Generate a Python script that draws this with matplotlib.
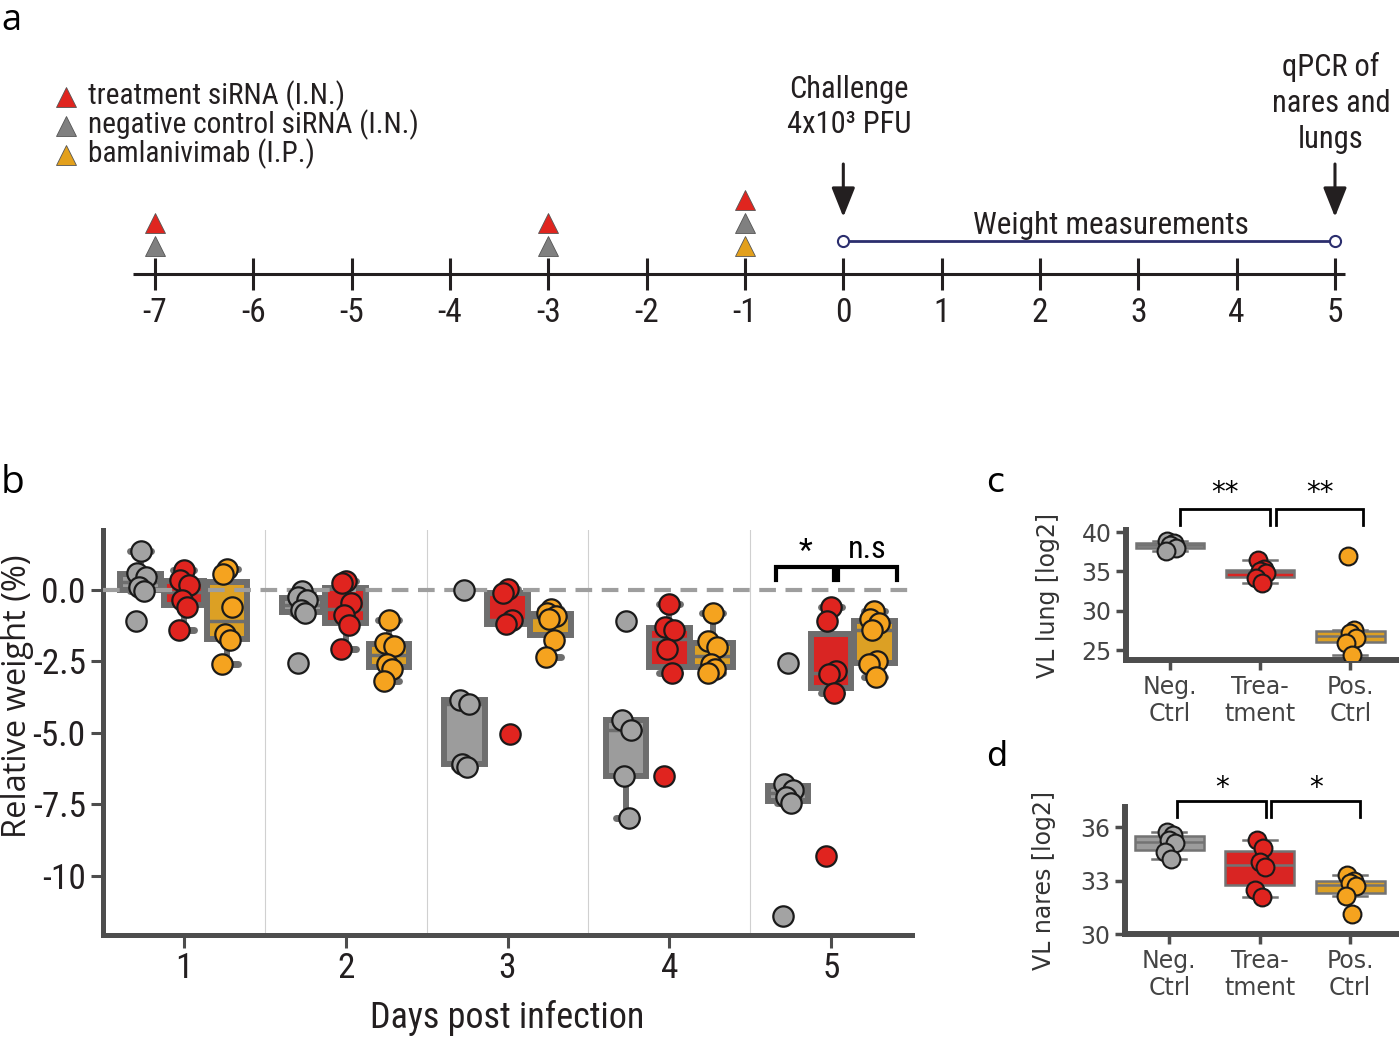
import numpy as np
import matplotlib
matplotlib.use('Agg')
import matplotlib.pyplot as plt
from matplotlib import font_manager as fm

# ------------------------- data -------------------------
tl_days = [-7, -6, -5, -4, -3, -2, -1, 0, 1, 2, 3, 4, 5]
tl_labels = ['-7', '-6', '-5', '-4', '-3', '-2', '-1', '0', '1', '2', '3', '4', '5']
legend_labels = ['treatment siRNA (I.N.)', 'negative control siRNA (I.N.)', 'bamlanivimab (I.P.)']
treat_days = [-7, -3, -1]
negctrl_days = [-7, -3, -1]
bamlan_days = [-1]
challenge_day = 0
qpcr_day = 5
weight_span = [0, 5]

days = [1, 2, 3, 4, 5]
neg_weight = [[1.35, 0.6, 0.45, 0.1, -0.05, -1.1],
              [-0.05, -0.25, -0.35, -0.7, -0.8, -2.55],
              [0.0, -3.85, -4.0, -6.1, -6.2],
              [-1.1, -4.55, -4.9, -6.5, -8.0],
              [-2.55, -6.8, -7.0, -7.25, -7.45, -11.4]]
trt_weight = [[0.7, 0.35, 0.18, -0.35, -0.6, -1.4],
              [0.3, 0.25, -0.45, -0.88, -1.23, -2.07],
              [0.05, -0.1, -1.05, -1.2, -5.05],
              [-0.5, -1.3, -1.4, -2.05, -2.9, -6.5],
              [-0.6, -1.1, -2.85, -2.95, -3.6, -9.3]]
pos_weight = [[0.75, 0.55, -0.6, -1.55, -1.75, -2.6],
              [-1.05, -1.85, -1.95, -2.6, -2.75, -3.2],
              [-0.65, -0.8, -0.9, -1.0, -1.75, -2.35],
              [-0.8, -1.8, -2.0, -2.6, -2.75, -2.9],
              [-0.75, -1.0, -1.15, -1.4, -2.5, -2.6, -3.05]]

vl_groups = ['Neg.\nCtrl', 'Trea-\ntment', 'Pos.\nCtrl']
lung_neg = [38.9, 38.6, 38.4, 38.0, 37.6]
lung_trt = [36.4, 35.3, 35.0, 34.8, 34.2, 33.5]
lung_pos = [37.0, 27.6, 27.2, 26.5, 25.9, 24.4]
nares_neg = [35.75, 35.6, 35.3, 35.1, 34.6, 34.2]
nares_trt = [35.3, 34.85, 34.05, 33.75, 32.45, 32.1]
nares_pos = [33.3, 33.0, 32.85, 32.7, 32.15, 31.1]

# ------------------------- style -------------------------
names = {f.name for f in fm.fontManager.ttflist}
NARROW = 'DejaVu Sans'
for cand in ['Liberation Sans Narrow', 'Roboto Condensed', 'Open Sans']:
    if cand in names:
        NARROW = cand
        break
WIDE = 'Open Sans' if 'Open Sans' in names else 'DejaVu Sans'

RED_T, GRAY_T, ORA_T = '#e0251f', '#808080', '#e3a01c'
PT_COL = ['#a3a3a3', '#e0241f', '#f5a31f']
BOX_COL = ['#9c9c9c', '#d92523', '#dca024']
EDGE = '#6e6e6e'
SPINE = '#4d4d4d'
NAVY = '#2b2e6e'

W, H = 1399, 1038
fig = plt.figure(figsize=(W / 100, H / 100), dpi=100)


def fy(py):
    return 1 - py / H


# ------------------------- panel a -------------------------
axa = fig.add_axes([0, fy(360), 1, 360 / H])
axa.set_xlim(-8.576, 5.651)
axa.set_ylim(360, 0)
axa.axis('off')
axa.plot([-7.22, 5.10], [274, 274], color='#231f20', lw=2.2, solid_capstyle='butt')
axa.vlines(tl_days, 258, 290, color='#231f20', lw=2.2)
for d, lab in zip(tl_days, tl_labels):
    axa.text(d, 313, lab, ha='center', va='center', fontsize=24, family=NARROW, color='#231f20')

stack = {}
for grp, dlist, col in [('bam', bamlan_days, ORA_T), ('neg', negctrl_days, GRAY_T), ('trt', treat_days, RED_T)]:
    for d in dlist:
        k = stack.get(d, 0)
        axa.plot(d, 246 - 23 * k, marker='^', ms=14.5, color=col, mec='#555555', mew=0.6, ls='none')
        stack[d] = k + 1

leg_y = [96, 125, 154]
for lab, col, yy in zip(legend_labels, [RED_T, GRAY_T, ORA_T], leg_y):
    axa.plot(-7.905, yy + 1, marker='^', ms=14.5, color=col, mec='#555555', mew=0.6, ls='none')
    axa.text(-7.68, yy, lab, ha='left', va='center', fontsize=21.2, family=NARROW, color='#231f20')

for d in [challenge_day, qpcr_day]:
    axa.annotate('', xy=(d, 217), xytext=(d, 164),
                 arrowprops=dict(arrowstyle='-|>,head_length=0.5,head_width=0.2', lw=2.2,
                                 color='#231f20', mutation_scale=36, shrinkA=0, shrinkB=0))
axa.text(challenge_day + 0.06, 107, 'Challenge\n4x10³ PFU', ha='center', va='center', fontsize=22,
         family=[NARROW, 'DejaVu Sans'], linespacing=1.3, color='#231f20')
axa.text(qpcr_day - 0.04, 103, 'qPCR of\nnares and\nlungs', ha='center', va='center', fontsize=22,
         family=NARROW, linespacing=1.3, color='#231f20')
axa.plot(weight_span, [241, 241], color=NAVY, lw=2, marker='o', ms=8, mfc='white', mec=NAVY, mew=1.5)
axa.text(2.72, 226, 'Weight measurements', ha='center', va='center', fontsize=22.5, family=NARROW, color='#231f20')

# ------------------------- panel b -------------------------
axb = fig.add_axes([103 / W, fy(935), 809 / W, 405 / H])
axb.set_xlim(0.5, 5.5)
axb.set_ylim(-12.08, 2.1)
jit = np.array([0.0, -0.025, 0.03, -0.012, 0.018, -0.03, 0.01])
offsets = [-0.267, 0.0, 0.267]
for gi, series in enumerate([neg_weight, trt_weight, pos_weight]):
    pos = [d + offsets[gi] for d in days]
    axb.boxplot(series, positions=pos, widths=0.25, patch_artist=True, showfliers=False,
                manage_ticks=False, capwidths=0.13,
                boxprops=dict(facecolor=BOX_COL[gi], edgecolor=EDGE, linewidth=4.3),
                medianprops=dict(color=EDGE, linewidth=2.5),
                whiskerprops=dict(color=EDGE, linewidth=4.3),
                capprops=dict(color=EDGE, linewidth=5, solid_capstyle='round'))
    for p, vals in zip(pos, series):
        xs = p + jit[:len(vals)]
        axb.scatter(xs, vals, s=215, color=PT_COL[gi], edgecolor='#1a1a1a', lw=1.6, zorder=6)
for xv in [1.5, 2.5, 3.5, 4.5]:
    axb.axvline(xv, color='#d0d0d0', lw=0.8, zorder=0)
axb.axhline(0, color='#9e9e9e', lw=3, ls=(0, (4, 2.3)), zorder=4)
for s in ['top', 'right']:
    axb.spines[s].set_visible(False)
for s in ['left', 'bottom']:
    axb.spines[s].set_linewidth(3.6)
    axb.spines[s].set_color(SPINE)
axb.set_yticks([0, -2.5, -5, -7.5, -10])
axb.set_yticklabels(['0.0', '-2.5', '-5.0', '-7.5', '-10'])
axb.set_xticks(days)
axb.set_xticklabels([str(d) for d in days])
axb.tick_params(axis='both', length=9, width=2.2, color=SPINE, labelsize=25.5, labelcolor='#231f20')
for t in axb.get_xticklabels() + axb.get_yticklabels():
    t.set_family(NARROW)
axb.set_xlabel('Days post infection', fontsize=26, family=NARROW, color='#231f20')
axb.xaxis.label.set_va('center')
axb.xaxis.set_label_coords(0.5, -0.205)
axb.set_ylabel('Relative weight (%)', fontsize=23.5, family=WIDE, color='#231f20')
axb.yaxis.label.set_va('center')
axb.yaxis.set_label_coords(-0.106, 0.59)


def bracket(ax, x0, x1, ytop, ybot, lw, text, ty, fs, fam):
    ax.plot([x0, x0, x1, x1], [ybot, ytop, ytop, ybot], color='k', lw=lw, clip_on=False,
            solid_joinstyle='miter', zorder=7)
    ax.text((x0 + x1) / 2, ty, text, ha='center', va='center', fontsize=fs, family=fam, clip_on=False)


bracket(axb, 4.66, 5.02, 0.8, 0.35, 3, '*', 1.35, 23, NARROW)
bracket(axb, 5.04, 5.41, 0.8, 0.35, 3, 'n.s', 1.4, 23, NARROW)

# ------------------------- panels c, d -------------------------
def vl_panel(ax, series, ylim, yticks, ylabel, lab_xy):
    ax.set_xlim(-0.49, 2.54)
    ax.set_ylim(*ylim)
    jv = np.array([-0.03, 0.04, 0.0, 0.06, -0.05, 0.02])
    for gi, vals in enumerate(series):
        ax.boxplot([vals], positions=[gi], widths=0.76, patch_artist=True, showfliers=False,
                   manage_ticks=False, capwidths=0.38,
                   boxprops=dict(facecolor=BOX_COL[gi], edgecolor='#737373', linewidth=1.8),
                   medianprops=dict(color='#737373', linewidth=1.8),
                   whiskerprops=dict(color='#737373', linewidth=1.8),
                   capprops=dict(color='#737373', linewidth=1.8))
        ax.scatter(gi + jv[:len(vals)], vals, s=165, color=PT_COL[gi], edgecolor='#1a1a1a', lw=1.5, zorder=6)
    for s in ['top', 'right']:
        ax.spines[s].set_visible(False)
    for s in ['left', 'bottom']:
        ax.spines[s].set_linewidth(4.3)
        ax.spines[s].set_color(SPINE)
    ax.set_yticks(yticks)
    ax.set_xticks([0, 1, 2])
    ax.set_xticklabels(vl_groups)
    ax.tick_params(axis='both', length=7, width=2.5, color=SPINE, labelsize=17, labelcolor='#444444')
    ax.set_ylabel(ylabel, fontsize=17, color='#333333')
    ax.yaxis.label.set_va('center')
    ax.yaxis.set_label_coords(*lab_xy)


axc = fig.add_axes([1126 / W, fy(660), 273 / W, 130 / H])
vl_panel(axc, [lung_neg, lung_trt, lung_pos], (23.77, 40.26), [25, 30, 35, 40], 'VL lung [log2]', (-0.285, 0.5))
bracket(axc, 0.11, 1.11, 42.9, 40.9, 2, '**', 44.9, 20, 'DejaVu Sans')
bracket(axc, 1.18, 2.14, 42.9, 40.9, 2, '**', 44.9, 20, 'DejaVu Sans')

axd = fig.add_axes([1125 / W, fy(934), 274 / W, 127 / H])
vl_panel(axd, [nares_neg, nares_trt, nares_pos], (30.0, 37.15), [30, 33, 36], 'VL nares [log2]', (-0.297, 0.425))
bracket(axd, 0.09, 1.07, 37.47, 36.56, 2, '*', 38.2, 20, 'DejaVu Sans')
bracket(axd, 1.13, 2.11, 37.47, 36.56, 2, '*', 38.2, 20, 'DejaVu Sans')

# ------------------------- panel letters -------------------------
fig.text(11 / W, fy(30), 'a', fontsize=26, family=WIDE, ha='center', va='baseline')
fig.text(12 / W, fy(483), 'b', fontsize=28, family=WIDE, ha='center', va='center')
fig.text(995 / W, fy(483), 'c', fontsize=24, family='DejaVu Sans', ha='center', va='center')
fig.text(997 / W, fy(757), 'd', fontsize=24, family='DejaVu Sans', ha='center', va='center')

fig.savefig('out.png', dpi=100)
